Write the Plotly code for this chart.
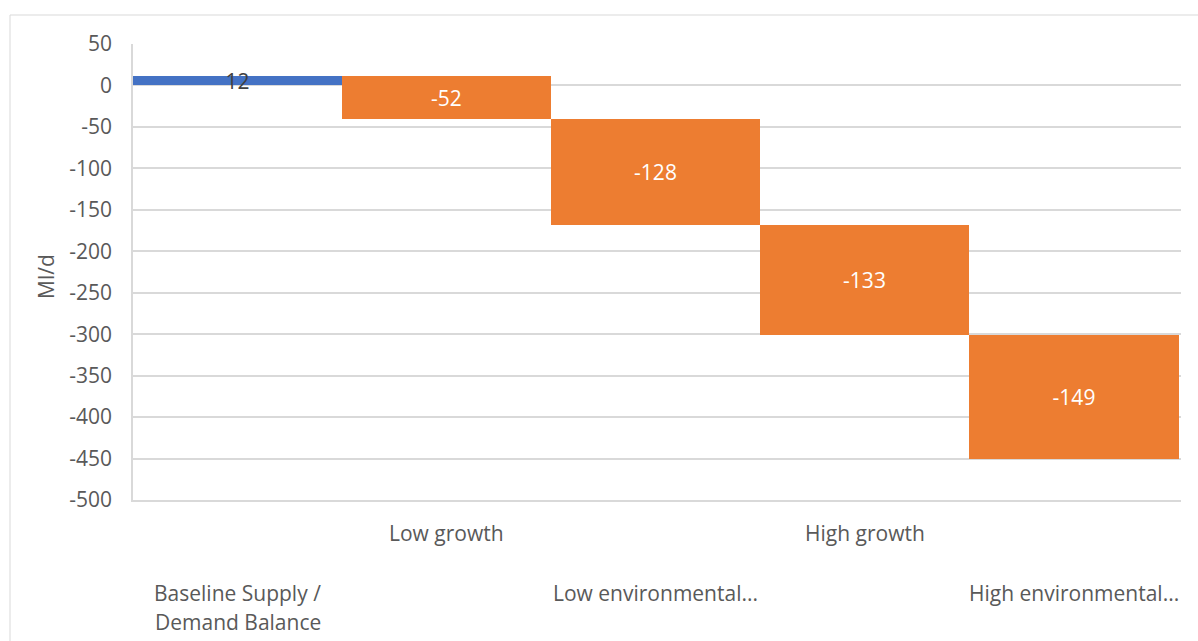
import plotly.graph_objects as go

categories = ["Baseline Supply / Demand Balance", "Low growth", "Low environmental...",
              "High growth", "High environmental..."]
tick_labels = [["Baseline Supply /", "Demand Balance"], ["Low growth"], ["Low environmental..."],
               ["High growth"], ["High environmental..."]]
values = [12, -52, -128, -133, -149]
label_colors = ["#404040", "white", "white", "white", "white"]
y_ticks = [50, 0, -50, -100, -150, -200, -250, -300, -350, -400, -450, -500]
y_tick_text = ["50", "0", "-50", "-100", "-150", "-200", "-250", "-300", "-350", "-400", "-450", "-500"]

FONT = "Open Sans"
FS = 21
GREY = "#595959"
W, H = 1198, 641
L, R, T, B = 133, 17, 44, 141
PW, PH = W - L - R, H - T - B

def px_x(px):
    return (px - L) / PW

def px_y(py):
    return (H - B - py) / PH

fig = go.Figure()
fig.add_trace(go.Waterfall(
    x=categories,
    y=values,
    measure=["relative"] * len(values),
    base=0,
    text=[str(v) for v in values],
    textposition="inside",
    insidetextanchor="middle",
    textangle=0,
    constraintext="none",
    insidetextfont=dict(family=FONT, size=FS, color=label_colors),
    increasing=dict(marker=dict(color="#4472C4")),
    decreasing=dict(marker=dict(color="#ED7D31")),
    connector=dict(visible=False),
    showlegend=False,
    cliponaxis=False,
))

annotations = []
for idx, (cat, lines) in enumerate(zip(categories, tick_labels)):
    first = 533 if idx % 2 == 1 else 593
    for j, line in enumerate(lines):
        annotations.append(dict(
            x=cat, xref="x", y=0, yref="paper", yanchor="middle",
            yshift=-(first + 29 * j - (H - B)),
            text=line, showarrow=False,
            font=dict(family=FONT, size=FS, color=GREY),
        ))
annotations.append(dict(
    x=px_x(30), xref="paper", y=px_y(277), yref="paper",
    text="Ml/d", textangle=-90, showarrow=False,
    font=dict(family=FONT, size=FS, color=GREY),
))

shapes = [
    dict(type="line", xref="paper", yref="paper", x0=px_x(10), x1=px_x(10),
         y0=px_y(15), y1=px_y(660), line=dict(color="#D9D9D9", width=1)),
    dict(type="line", xref="paper", yref="paper", x0=px_x(10), x1=px_x(1198),
         y0=px_y(15), y1=px_y(15), line=dict(color="#D9D9D9", width=1)),
]

fig.update_layout(
    width=W, height=H,
    margin=dict(l=L, r=R, t=T, b=B),
    paper_bgcolor="white", plot_bgcolor="white",
    waterfallgap=0,
    font=dict(family=FONT, size=FS, color=GREY),
    annotations=annotations,
    shapes=shapes,
    xaxis=dict(showticklabels=False, showgrid=False, zeroline=False,
               showline=True, linecolor="#D9D9D9", linewidth=1.5),
    yaxis=dict(
        range=[-500, 50], tickvals=y_ticks, ticktext=y_tick_text,
        showgrid=True, gridcolor="#D9D9D9", gridwidth=1.5,
        zeroline=False, showline=True, linecolor="#D9D9D9", linewidth=1.5,
        ticks="", ticklabelstandoff=15,
        tickfont=dict(family=FONT, size=FS, color=GREY),
    ),
)

fig.write_html("out.html")
